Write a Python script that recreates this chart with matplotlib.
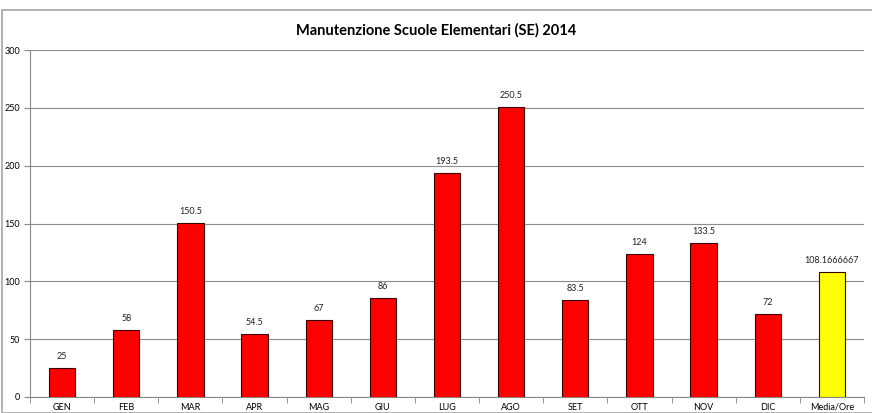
import matplotlib
matplotlib.use('Agg')
import matplotlib.pyplot as plt
from matplotlib.patches import Rectangle
import numpy as np

plt.rcParams['font.family'] = ['Lato', 'DejaVu Sans']

months = ['GEN', 'FEB', 'MAR', 'APR', 'MAG', 'GIU', 'LUG', 'AGO', 'SET', 'OTT', 'NOV', 'DIC', 'Media/Ore']
hours = [25, 58, 150.5, 54.5, 67, 86, 193.5, 250.5, 83.5, 124, 133.5, 72, 108.1666667]
labels = ['25', '58', '150.5', '54.5', '67', '86', '193.5', '250.5', '83.5', '124', '133.5', '72', '108.1666667']

fig = plt.figure(figsize=(8.72, 4.13), dpi=100)
fig.patches.append(Rectangle((2 / 872, 0), 1, 1 - 10 / 413, transform=fig.transFigure,
                             fill=False, edgecolor='#a6a6a6', linewidth=1.2))
ax = fig.add_axes([30 / 872, 16 / 413, 834 / 872, 347 / 413])

x = np.arange(len(months))
colors = ['#ff0000'] * 12 + ['#ffff00']
ax.bar(x, hours, width=0.41, color=colors, edgecolor='#3a0000', linewidth=0.8, zorder=3)

for i, (v, lab) in enumerate(zip(hours, labels)):
    ax.text(i, v + 6, lab, ha='center', va='bottom', fontsize=6.5, color='#222222')

ax.set_xlim(-0.5, len(months) - 0.5)
ax.set_ylim(0, 300)
ax.set_yticks(range(0, 301, 50))
ax.set_xticks(x)
ax.set_xticklabels(months, fontsize=6.5)
ax.set_xticks(np.arange(-0.5, len(months), 1), minor=True)
ax.tick_params(axis='x', which='major', length=0, pad=4)
ax.tick_params(axis='x', which='minor', length=4, color='#888888')
ax.tick_params(axis='y', labelsize=6.5, length=4, color='#888888', pad=3)
ax.grid(axis='y', color='#8c8c8c', linewidth=0.8, zorder=0)
for s in ['top', 'right']:
    ax.spines[s].set_visible(False)
ax.spines['left'].set_color('#888888')
ax.spines['bottom'].set_color('#888888')

fig.text(0.5, 1 - 30 / 413, 'Manutenzione Scuole Elementari (SE) 2014', ha='center', va='center',
         fontsize=10.5, fontweight='bold')

fig.savefig('out.png', dpi=100)
